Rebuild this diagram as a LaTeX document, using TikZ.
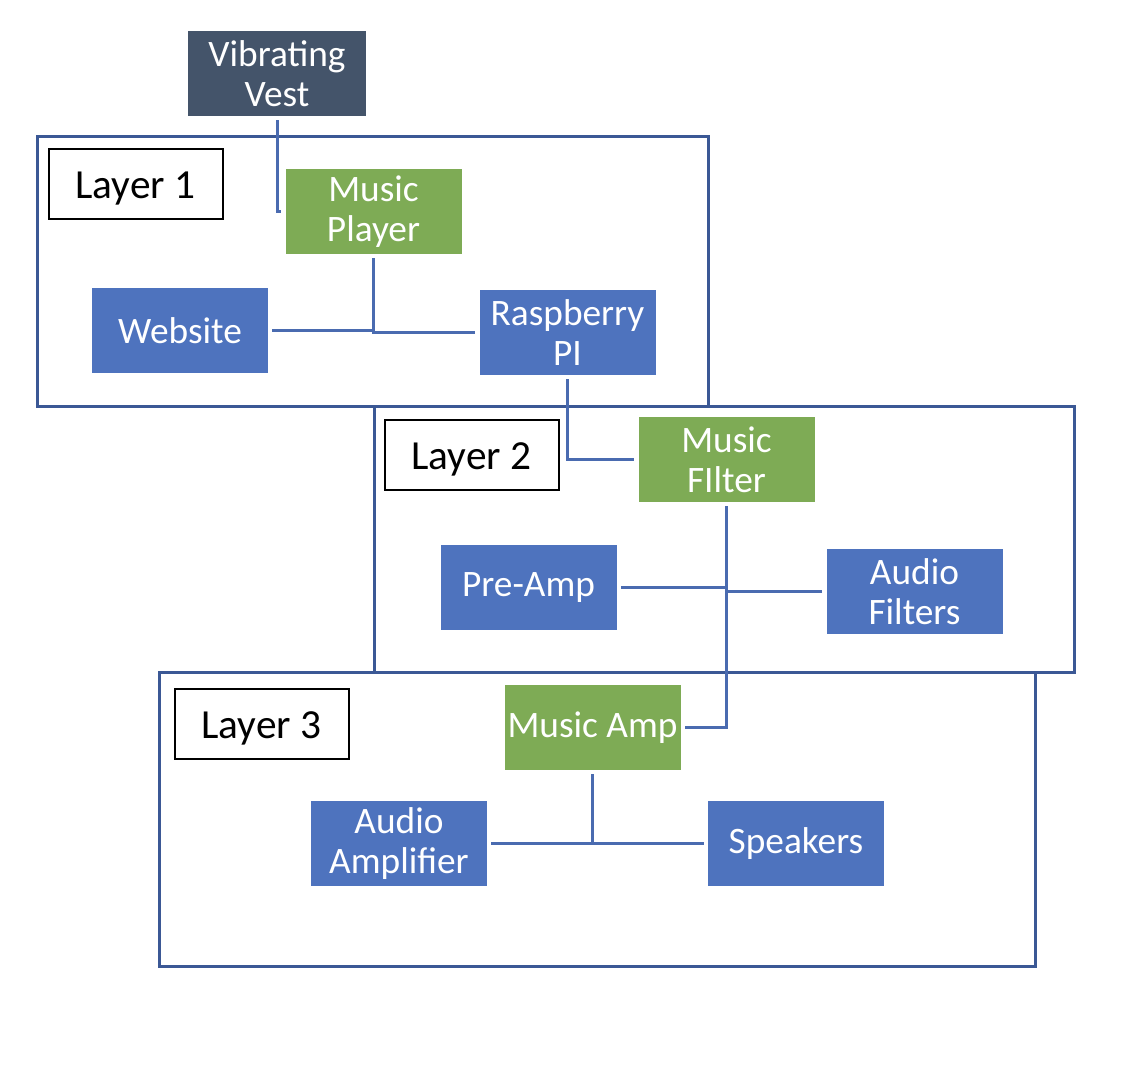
\documentclass[tikz,border=0pt]{standalone}
\usepackage{xcolor}
\usepackage{fontspec}
\setmainfont{Carlito}
\usepackage{tikz}
\usetikzlibrary{positioning, calc}
\definecolor{slategray}{HTML}{44546A}
\definecolor{musicgreen}{HTML}{7EAB55}
\definecolor{partblue}{HTML}{4E73BE}
\definecolor{frameblue}{HTML}{3B5895}
\definecolor{wireblue}{HTML}{4A6BB0}

\begin{document}
\begin{tikzpicture}[x=0.75pt, y=-0.75pt,
    every node/.style={font=\fontsize{28}{30}\selectfont, align=center, inner sep=0pt},
    part/.style={fill=partblue, text=white, minimum width=132pt, minimum height=64pt},
    music/.style={part, fill=musicgreen},
    vestbox/.style={part, fill=slategray, minimum width=133.5pt},
    layerlabel/.style={draw=black, line width=1.5pt, fill=white, font=\fontsize{31}{33}\selectfont,
      text height=27pt, text depth=5pt, minimum width=130.5pt, minimum height=52.5pt},
    layerframe/.style={draw=frameblue, line width=2.25pt},
    wire/.style={draw=wireblue, line width=2.25pt, shorten <=3pt, shorten >=3pt}]
  \useasboundingbox (0,0) rectangle (1142,1072);

  % layer frames
  \draw[layerframe] (37,136) rectangle (708,406);
  \draw[layerframe] (374,406) rectangle (1074,672);
  \draw[layerframe] (159,672) rectangle (1035,966);

  \node[layerlabel] (layer1) at (135.5,183.5) {Layer 1};
  \node[layerlabel] (layer2) at (471.5,455) {Layer 2};
  \node[layerlabel] (layer3) at (261.5,724) {Layer 3};

  % components
  \node[vestbox] (vest) at (277,73.5) {Vibrating\\Vest};
  \node[music] (player) at (373.5,211.5) {Music\\Player};
  \node[part] (website) at (180,330.5) {Website};
  \node[part] (raspi) at (567.5,332.5) {Raspberry\\PI};
  \node[music] (filter) at (726.5,459.5) {Music\\FIlter};
  \node[part] (preamp) at (528.5,587.5) {Pre-Amp};
  \node[part] (afilters) at (914.5,591.5) {Audio\\Filters};
  \node[music] (musicamp) at (592.5,727.5) {Music Amp};
  \node[part] (aamp) at (399,843.5) {Audio\\Amplifier};
  \node[part] (speakers) at (796,843.5) {Speakers};

  % connectors
  \draw[wire] (vest.south) |- (player.west);
  \draw[wire] (player.south) |- (raspi.west);
  \draw[wire, shorten >=0pt] (website.east) -- (website.east -| player.south);
  \draw[wire] (raspi.south) |- (filter.west);
  \draw[wire] (filter.south) |- (musicamp.east);
  \draw[wire, shorten >=0pt] (preamp.east) -- (preamp.east -| filter.south);
  \draw[wire, shorten >=0pt] (afilters.west) -- (afilters.west -| filter.south);
  \draw[wire] (aamp.east) -- (speakers.west);
  \draw[wire, shorten >=0pt] (musicamp.south) -- (musicamp.south |- aamp.east);
\end{tikzpicture}
\end{document}
